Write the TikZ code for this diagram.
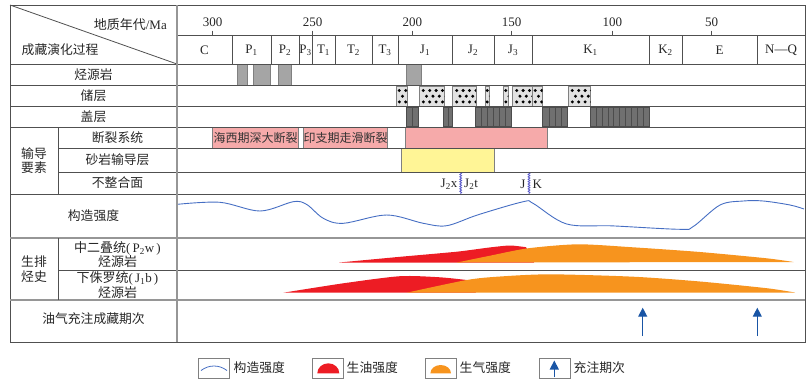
\documentclass[tikz,border=0pt]{standalone}
\usepackage{fontspec}
\setmainfont{Liberation Serif}
\newfontfamily\cjk{Noto Sans CJK SC}
\usetikzlibrary{arrows.meta,decorations.pathmorphing}

\definecolor{framegray}{RGB}{80,80,80}
\definecolor{softgray}{RGB}{150,150,150}
\definecolor{srcgray}{RGB}{165,165,165}
\definecolor{sealgray}{RGB}{112,112,112}
\definecolor{resgray}{RGB}{226,226,226}
\definecolor{faultpink}{RGB}{246,170,170}
\definecolor{sandyellow}{RGB}{255,245,150}
\definecolor{oilred}{RGB}{237,28,36}
\definecolor{gasorange}{RGB}{247,148,30}
\definecolor{curveblue}{RGB}{70,110,195}
\definecolor{arrowblue}{RGB}{25,85,165}
\definecolor{wavyblue}{RGB}{85,85,200}

\tikzset{
  frameline/.style={draw=framegray, line width=0.8pt},
  softline/.style={draw=softgray, line width=1.1pt},
  zh/.style={font=\cjk\fontsize{12.8}{14.6}\selectfont, inner sep=0pt, text=black!85},
  lat/.style={font=\fontsize{13}{14.6}\selectfont, inner sep=0pt, text=black!85},
  srcbar/.style={fill=srcgray, draw=gray, line width=0.6pt},
  resfill/.style={fill=resgray, draw=gray, line width=0.6pt},
  sealfill/.style={fill=sealgray, draw=black!70, line width=0.6pt},
  faultbox/.style={fill=faultpink, draw=gray, line width=0.7pt, inner sep=0pt,
    font=\cjk\fontsize{12}{14}\selectfont, text=black!80},
  sandbox/.style={fill=sandyellow, draw=gray, line width=0.7pt},
  wavy/.style={draw=wavyblue, line width=0.8pt, decorate,
    decoration={snake, amplitude=0.9pt, segment length=2.4pt}},
  fillarrow/.style={draw=arrowblue, line width=1.2pt,
    -{Triangle[length=9pt, width=9pt]}},
  legbox/.style={draw=gray, line width=0.8pt}
}

\newcommand{\resbox}[3]{%
  \draw[resfill] (#1,86) rectangle (#2,106.5);
  \begin{scope}
    \clip (#1,86) rectangle (#2,106.5);
    \foreach \k in {0,...,12} {
      \fill ({#1+#3+6.4*\k},90.5) circle[radius=1.65pt];
      \fill ({#1+#3+3.2+6.4*\k},96.2) circle[radius=1.65pt];
      \fill ({#1+#3+6.4*\k},101.9) circle[radius=1.65pt];
    }
  \end{scope}}

\newcommand{\sealbar}[3]{%
  \draw[sealfill] (#1,107) rectangle (#2,126.6);
  \foreach \k in {1,...,#3}
    \draw[sealfill] ({#1+(#2-#1)*\k/(#3+1)},107) -- ({#1+(#2-#1)*\k/(#3+1)},126.6);}

\begin{document}
\begin{tikzpicture}[x=1pt,y=-1pt]
\useasboundingbox (0,0) rectangle (810,386);

\foreach \xa/\xb in {237.7/247.3, 253.3/270.7, 278.3/291, 406/421.7}
  \draw[srcbar] (\xa,64.5) rectangle (\xb,85.5);

\resbox{396.7}{407.3}{2.6}
\resbox{419.3}{444.3}{4}
\resbox{452.7}{476}{4}
\resbox{485}{489.3}{2.2}
\resbox{503.3}{508.3}{2.5}
\resbox{512.7}{532.7}{4}
\resbox{532.7}{542.7}{2.6}
\resbox{568.3}{590.7}{4}

\sealbar{406.7}{418.3}{1}
\sealbar{443.3}{452.7}{1}
\sealbar{475.7}{511.7}{5}
\sealbar{542.7}{567.3}{3}
\sealbar{590}{649.3}{9}

\node[faultbox, minimum width=85.6pt, minimum height=21pt] (haixi) at (255.5,137.5) {海西期深大断裂};
\node[faultbox, minimum width=84.4pt, minimum height=21pt] (yinzhi) at (345.5,137.5) {印支期走滑断裂};
\draw[faultbox] (405.7,127) rectangle (547.7,148);
\draw[sandbox] (401,148) rectangle (494.3,172);

\draw[wavy] (460.7,172.5) -- (460.7,194);
\draw[wavy] (529,172.5) -- (529,194);
\node[lat, anchor=east] (jtwox) at (457.5,184) {J\textsubscript{2}x};
\node[lat, anchor=west] (jtwot) at (464,184) {J\textsubscript{2}t};
\node[lat, anchor=east] (jur) at (525.5,184) {J};
\node[lat, anchor=west] (cre) at (532.5,184) {K};

\draw[curveblue, line width=0.9pt] plot[smooth, tension=0.55] coordinates {
  (177.5,204.3) (220,202.3) (260,211) (293.3,201.7) (306.7,204.5) (323.3,218.3)
  (343.3,223.3) (386.7,215) (423.3,223.3) (446.7,225.7) (478,214.8) (523.3,201.7)
  (533.3,203.5) (566.7,224) (613.3,225.9) (680,229.3) (693.3,226.5) (720,205)
  (743.3,201) (763.3,201) (790,205) (804,209)};

\fill[oilred] (339.3,262.5) -- plot[smooth, tension=0.4] coordinates {
  (339.3,262.5) (400,256.8) (456.7,251.7) (490,247.4) (510,245.5) (526,247.2)}
  -- (534,262.5) -- cycle;
\fill[gasorange] plot[smooth, tension=0.45] coordinates {
  (457,262.5) (490,255.7) (528,248.3) (578,244.3) (633,247.3) (700,252)
  (766.7,258.3) (793.5,262)} -- cycle;

\fill[oilred] (283.3,292.7) -- plot[smooth, tension=0.45] coordinates {
  (283.3,292.7) (343.3,283.3) (400,276.2) (440,277.3) (466.7,280)}
  -- (476,292.7) -- cycle;
\fill[gasorange] plot[smooth, tension=0.45] coordinates {
  (406.7,292.7) (466.7,280) (500,276.5) (550,274.3) (633.3,276.7) (700,281.5)
  (766.7,288.2) (795,292.5)} -- cycle;

\coordinate (fillonefoot) at (642.7,336);
\coordinate (fillonetip) at (642.7,307.7);
\coordinate (filltwofoot) at (757.3,336);
\coordinate (filltwotip) at (757.3,307.7);
\draw[fillarrow] (fillonefoot) -- (fillonetip);
\draw[fillarrow] (filltwofoot) -- (filltwotip);

\draw[frameline] (10,5) -- (10,342) -- (805,342) -- (805,5) -- cycle;
\draw[frameline] (10,5) -- (177,64);
\draw[frameline] (177,35) -- (805,35);
\foreach \yy in {64,85.7,106.7,127,194}
  \draw[frameline] (10,\yy) -- (805,\yy);
\foreach \yy in {148,172,270}
  \draw[frameline] (58,\yy) -- (805,\yy);
\draw[softline] (10,238) -- (805,238);
\draw[softline] (10,300) -- (805,300);
\draw[softline] (177,5) -- (177,342);
\draw[frameline] (58,127) -- (58,194);
\draw[frameline] (58,238) -- (58,300);
\foreach \xx in {232,271,299,312,335,372,398,452,494,532,649,682,757}
  \draw[frameline] (\xx,35) -- (\xx,64);

\foreach \xx/\age [count=\i] in {212.5/300, 312.7/250, 412.3/200, 511.7/150, 612.3/100, 711.7/50} {
  \draw[frameline] (\xx,30.5) -- (\xx,35);
  \node[lat] (age\i) at (\xx,22.5) {\age};
}
\draw[frameline] (312.7,35) -- (312.7,37.5);

\foreach \xa/\xb/\ename [count=\i] in {177/232/C, 232/271/P\textsubscript{1},
  271/299/P\textsubscript{2}, 299/312/P\textsubscript{3}, 312/335/T\textsubscript{1},
  335/372/T\textsubscript{2}, 372/398/T\textsubscript{3}, 398/452/J\textsubscript{1},
  452/494/J\textsubscript{2}, 494/532/J\textsubscript{3}, 532/649/K\textsubscript{1},
  649/682/K\textsubscript{2}, 682/757/E, 757/805/N\textemdash Q}
  \node[lat] (era\i) at ({(\xa+\xb)/2},50) {\ename};

\node[lat, anchor=east] (agehead) at (167,24.5) {{\cjk 地质年代}/Ma};
\node[zh, anchor=west] (evohead) at (21.5,50) {成藏演化过程};
\node[zh] (source) at (93.5,75) {烃源岩};
\node[zh] (reserv) at (93.5,96) {储层};
\node[zh] (seal) at (93.5,117) {盖层};
\node[zh, align=center] (carrier) at (34,160.5) {输导\\要素};
\node[zh] (fault) at (117.5,137.5) {断裂系统};
\node[zh] (sand) at (117.5,160) {砂岩输导层};
\node[zh] (uncon) at (117.5,183) {不整合面};
\node[zh] (tect) at (93.5,216) {构造强度};
\node[zh, align=center] (genexp) at (34,269) {生排\\烃史};
\node[lat, align=center] (ptwow) at (117.5,254.5) {{\cjk 中二叠统}(\,P\textsubscript{2}w\,)\\{\cjk 烃源岩}};
\node[lat, align=center] (jonb) at (117.5,285) {{\cjk 下侏罗统}(\,J\textsubscript{1}b\,)\\{\cjk 烃源岩}};
\node[zh] (charge) at (93.5,319) {油气充注成藏期次};

\draw[legbox] (198.3,358.3) rectangle (229.3,378.3);
\draw[curveblue, line width=0.8pt] (201,370.5) .. controls (209,364.5) and (219,364.5) .. (227,370.5);
\node[zh, anchor=west] (legtect) at (233.5,368) {构造强度};

\draw[legbox] (312.7,358.3) rectangle (343.3,378.3);
\fill[oilred] (317.3,373.3) .. controls (317.3,367.8) and (322.2,363.3) .. (328.3,363.3)
  .. controls (334.4,363.3) and (339.3,367.8) .. (339.3,373.3) -- cycle;
\node[zh, anchor=west] (legoil) at (346.5,368) {生油强度};

\draw[legbox] (425.7,358.3) rectangle (456.7,378.3);
\fill[gasorange] (430.4,373.3) .. controls (430.4,368.7) and (435,365) .. (440.7,365)
  .. controls (446.4,365) and (451,368.7) .. (451,373.3) -- cycle;
\node[zh, anchor=west] (leggas) at (459.5,368) {生气强度};

\draw[legbox] (539,358.3) rectangle (570,378.3);
\coordinate (legfoot) at (554.3,377.3);
\coordinate (legtip) at (554.3,360.5);
\draw[fillarrow] (legfoot) -- (legtip);
\node[zh, anchor=west] (legfill) at (573.5,368) {充注期次};
\end{tikzpicture}
\end{document}
